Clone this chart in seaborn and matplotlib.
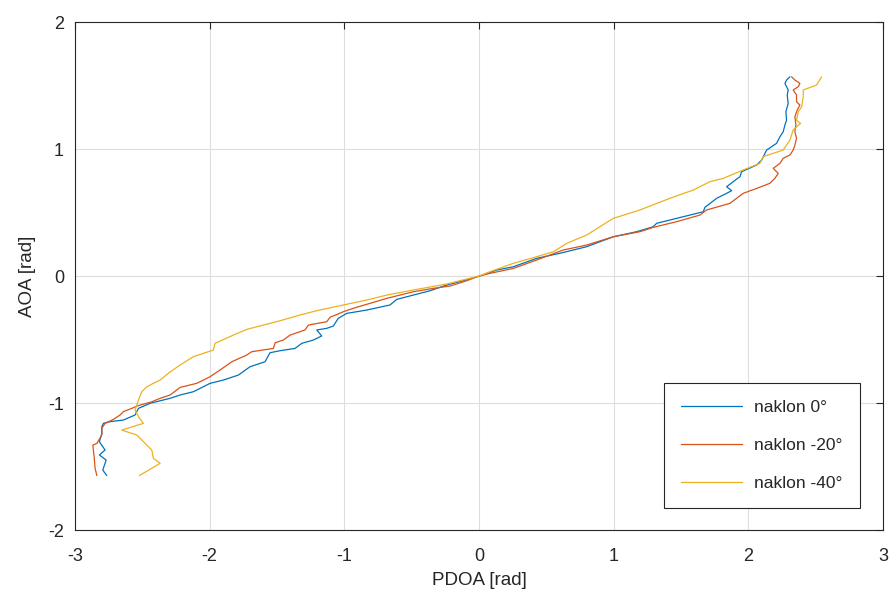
import pandas as pd
import matplotlib
matplotlib.use('Agg')
import matplotlib.pyplot as plt
import seaborn as sns

# PDOA / AOA traces, one pair of lists per tilt
pdoa_0 = [-2.764, -2.794, -2.769, -2.819, -2.777, -2.819, -2.801, -2.801, -2.789, -2.740,
          -2.641, -2.554, -2.529, -2.442, -2.294, -2.220, -2.121, -1.997, -1.898, -1.787,
          -1.700, -1.589, -1.552, -1.477, -1.366, -1.316, -1.230, -1.168, -1.205, -1.131,
          -1.082, -1.045, -0.982, -0.834, -0.661, -0.611, -0.488, -0.364, -0.240, -0.117,
          0.007, 0.131, 0.255, 0.428, 0.601, 0.800, 0.997, 1.171, 1.294, 1.319, 1.418,
          1.665, 1.678, 1.765, 1.839, 1.876, 1.839, 1.888, 1.938, 1.950, 2.062, 2.099,
          2.136, 2.210, 2.235, 2.259, 2.272, 2.284, 2.279, 2.296, 2.289, 2.296, 2.272,
          2.284, 2.309]
aoa_0 = [-1.571, -1.528, -1.449, -1.409, -1.370, -1.305, -1.239, -1.187, -1.160, -1.147,
         -1.134, -1.094, -1.042, -1.002, -0.963, -0.937, -0.911, -0.845, -0.819, -0.780,
         -0.714, -0.675, -0.604, -0.588, -0.570, -0.530, -0.504, -0.472, -0.425, -0.412,
         -0.394, -0.333, -0.294, -0.268, -0.228, -0.184, -0.150, -0.116, -0.071, -0.037,
         0.000, 0.047, 0.073, 0.139, 0.179, 0.231, 0.309, 0.349, 0.388, 0.415, 0.441,
         0.506, 0.541, 0.612, 0.651, 0.672, 0.703, 0.743, 0.782, 0.821, 0.874, 0.913,
         0.992, 1.045, 1.097, 1.136, 1.189, 1.228, 1.294, 1.359, 1.425, 1.465, 1.517,
         1.543, 1.569]

pdoa_20 = [-2.838, -2.851, -2.858, -2.868, -2.838, -2.801, -2.801, -2.777, -2.715, -2.665,
           -2.641, -2.578, -2.541, -2.430, -2.368, -2.294, -2.220, -2.096, -1.997, -1.923,
           -1.836, -1.725, -1.688, -1.527, -1.514, -1.453, -1.403, -1.329, -1.292, -1.267,
           -1.131, -1.106, -1.007, -0.933, -0.809, -0.685, -0.488, -0.339, -0.215, -0.091,
           0.000, 0.082, 0.255, 0.428, 0.626, 0.800, 0.997, 1.195, 1.294, 1.468, 1.641,
           1.690, 1.863, 1.962, 2.062, 2.160, 2.197, 2.222, 2.185, 2.235, 2.259, 2.309,
           2.333, 2.346, 2.358, 2.346, 2.353, 2.346, 2.363, 2.383, 2.358, 2.358, 2.333,
           2.371, 2.383, 2.346, 2.321]
aoa_20 = [-1.571, -1.514, -1.423, -1.331, -1.318, -1.252, -1.199, -1.160, -1.129, -1.094,
          -1.068, -1.042, -1.024, -0.990, -0.963, -0.937, -0.877, -0.845, -0.793, -0.740,
          -0.675, -0.622, -0.596, -0.570, -0.525, -0.504, -0.465, -0.438, -0.425, -0.386,
          -0.360, -0.325, -0.281, -0.254, -0.215, -0.176, -0.124, -0.097, -0.079, -0.037,
          0.000, 0.021, 0.060, 0.126, 0.205, 0.244, 0.309, 0.349, 0.383, 0.428, 0.480,
          0.520, 0.572, 0.651, 0.690, 0.730, 0.769, 0.808, 0.848, 0.887, 0.927, 0.953,
          0.992, 1.031, 1.084, 1.136, 1.189, 1.254, 1.307, 1.346, 1.372, 1.425, 1.465,
          1.491, 1.517, 1.543, 1.569]

pdoa_40 = [-2.522, -2.368, -2.418, -2.430, -2.541, -2.653, -2.492, -2.529, -2.554, -2.529,
           -2.504, -2.467, -2.418, -2.368, -2.300, -2.220, -2.121, -1.973, -1.960, -1.824,
           -1.725, -1.601, -1.477, -1.329, -1.205, -1.007, -0.834, -0.685, -0.488, -0.240,
           0.000, 0.082, 0.255, 0.428, 0.552, 0.651, 0.800, 0.997, 1.195, 1.418, 1.591,
           1.715, 1.814, 1.962, 2.086, 2.111, 2.259, 2.309, 2.333, 2.388, 2.358, 2.371,
           2.396, 2.408, 2.408, 2.507, 2.544]
aoa_40 = [-1.571, -1.475, -1.436, -1.370, -1.252, -1.213, -1.160, -1.108, -1.055, -0.976,
          -0.911, -0.872, -0.845, -0.819, -0.760, -0.701, -0.635, -0.583, -0.530, -0.465,
          -0.420, -0.386, -0.352, -0.307, -0.273, -0.228, -0.189, -0.150, -0.110, -0.063,
          0.000, 0.034, 0.100, 0.152, 0.191, 0.257, 0.323, 0.454, 0.520, 0.612, 0.677,
          0.743, 0.769, 0.835, 0.887, 0.940, 0.992, 1.071, 1.150, 1.202, 1.228, 1.294,
          1.333, 1.412, 1.465, 1.504, 1.569]

labels = ['naklon 0°', 'naklon -20°', 'naklon -40°']
colors = ['#0072BD', '#D95319', '#EDB120']

frames = []
for lab, xs, ys in zip(labels, [pdoa_0, pdoa_20, pdoa_40], [aoa_0, aoa_20, aoa_40]):
    frames.append(pd.DataFrame({'PDOA': xs, 'AOA': ys, 'naklon': lab}))
df = pd.concat(frames, ignore_index=True)

sns.set_style('white')
plt.rcParams['font.family'] = ['Liberation Sans', 'DejaVu Sans']
plt.rcParams['axes.unicode_minus'] = False

fig = plt.figure(figsize=(8.91, 5.95), dpi=100)
ax = fig.add_axes([0.0842, 0.1092, 0.9068, 0.8538])

sns.lineplot(data=df, x='PDOA', y='AOA', hue='naklon', hue_order=labels,
             palette=dict(zip(labels, colors)), sort=False, estimator=None,
             units='naklon', linewidth=0.9, ax=ax)

ax.set_xlim(-3, 3)
ax.set_ylim(-2, 2)
ax.set_xticks(range(-3, 4))
ax.set_yticks(range(-2, 3))
ax.grid(True, color='#dedede', linewidth=0.8)
ax.set_axisbelow(True)
for s in ax.spines.values():
    s.set_color('#262626')
    s.set_linewidth(0.8)
ax.tick_params(direction='in', length=5, width=0.8, top=True, right=True,
               colors='#262626', labelsize=13)
ax.tick_params(axis='x', pad=13)
ax.tick_params(axis='y', pad=8)
ax.set_xlabel('PDOA [rad]', fontsize=13.5, color='#262626', labelpad=5)
ax.set_ylabel('AOA [rad]', fontsize=13.5, color='#262626', labelpad=9)

leg = ax.legend(loc='lower right', bbox_to_anchor=(0.9715, 0.0433), borderaxespad=0,
                fancybox=False, framealpha=1, edgecolor='#262626', fontsize=12.5,
                handlelength=3.5, labelspacing=1.3, borderpad=1.0, handletextpad=0.7)
leg.get_frame().set_linewidth(0.8)

fig.savefig('out.png', dpi=100)
